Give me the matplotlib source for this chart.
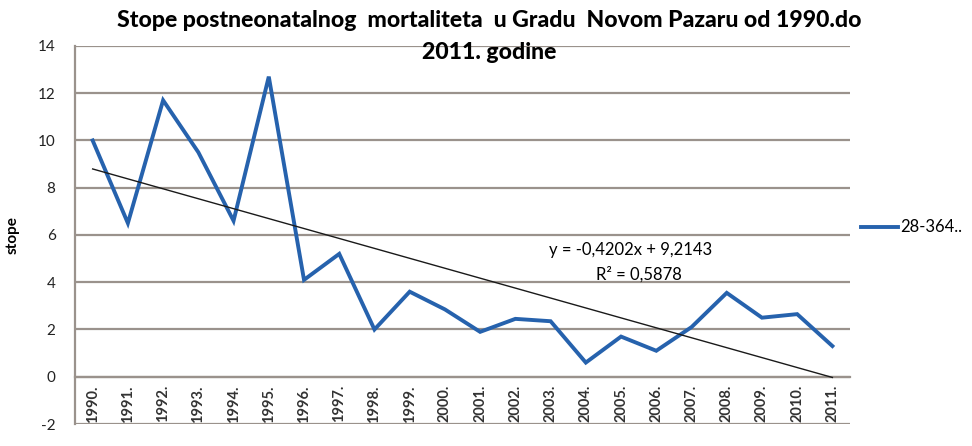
import numpy as np
import matplotlib.pyplot as plt

plt.rcParams['font.family'] = ['Lato', 'DejaVu Sans']

# godine i stope postneonatalnog mortaliteta (28-364 dana)
godine = [f"{g}." for g in range(1990, 2012)]
stope = [10.0, 6.5, 11.7, 9.5, 6.6, 12.7, 4.1, 5.2, 2.0, 3.6, 2.85,
         1.9, 2.45, 2.35, 0.6, 1.7, 1.1, 2.1, 3.55, 2.5, 2.65, 1.3]
yticks = [-2, 0, 2, 4, 6, 8, 10, 12, 14]

# linearni trend (Excel): y = k*x + n, x = 1..22
trend_k = -0.4202
trend_n = 9.2143
trend_r2 = 0.5878

fig = plt.figure(figsize=(9.72, 4.46), dpi=100)
ax = fig.add_axes([0.0772, 0.0493, 0.7973, 0.8477])

grid_c = '#9a928c'
# x osa prolazi kroz nulu; postaviti prije tickova jer set_position ih resetuje
ax.spines['bottom'].set_position(('data', 0))
ax.spines['bottom'].set_color(grid_c)
ax.spines['bottom'].set_linewidth(1.6)
for s in ('top', 'right'):
    ax.spines[s].set_visible(False)
ax.spines['left'].set_color(grid_c)
ax.spines['left'].set_linewidth(1.6)

x = np.arange(1, len(stope) + 1)
ax.plot(x, stope, color='#2662ad', lw=2.8, solid_joinstyle='miter',
        label='28-364..', zorder=3)
ax.plot(x, trend_k * x + trend_n, color='#1a1a1a', lw=1.0, zorder=4)

ax.set_xlim(0.5, len(stope) + 0.5)
ax.set_ylim(-2, 14)
ax.set_yticks(yticks)
ax.set_yticklabels([str(t) for t in yticks], fontsize=11, color='#222222')
ax.set_xticks(x)
ax.set_xticklabels(godine, rotation=90, fontsize=10.5, fontweight='bold',
                   color='#333333')
ax.tick_params(axis='x', length=0, pad=6)
ax.tick_params(axis='y', length=0, pad=14)

ax.grid(axis='y', color=grid_c, lw=1.6)
ax.set_axisbelow(True)

ax.set_ylabel('stope', fontsize=11, fontweight='bold')
ax.yaxis.set_label_coords(-0.072, 0.5)

fig.text(0.503, 0.978,
         'Stope postneonatalnog  mortaliteta  u Gradu  Novom Pazaru od 1990.do\n2011. godine',
         ha='center', va='top', fontsize=16.6, fontweight='black',
         linespacing=1.65)

eq = f"y = {trend_k:.4f}x + {trend_n:.4f}".replace('.', ',')
ax.text(13.95, 5.35, eq, fontsize=12, ha='left', va='center')
ax.text(16.5, 4.35, f"R² = {trend_r2:.4f}".replace('.', ','),
        fontsize=12, ha='center', va='center')

ax.legend(loc='center left', bbox_to_anchor=(1.0, 0.52), frameon=False,
          handlelength=2.2, handletextpad=0.15, fontsize=12,
          borderaxespad=0.25)

fig.savefig('out.png', dpi=100)
